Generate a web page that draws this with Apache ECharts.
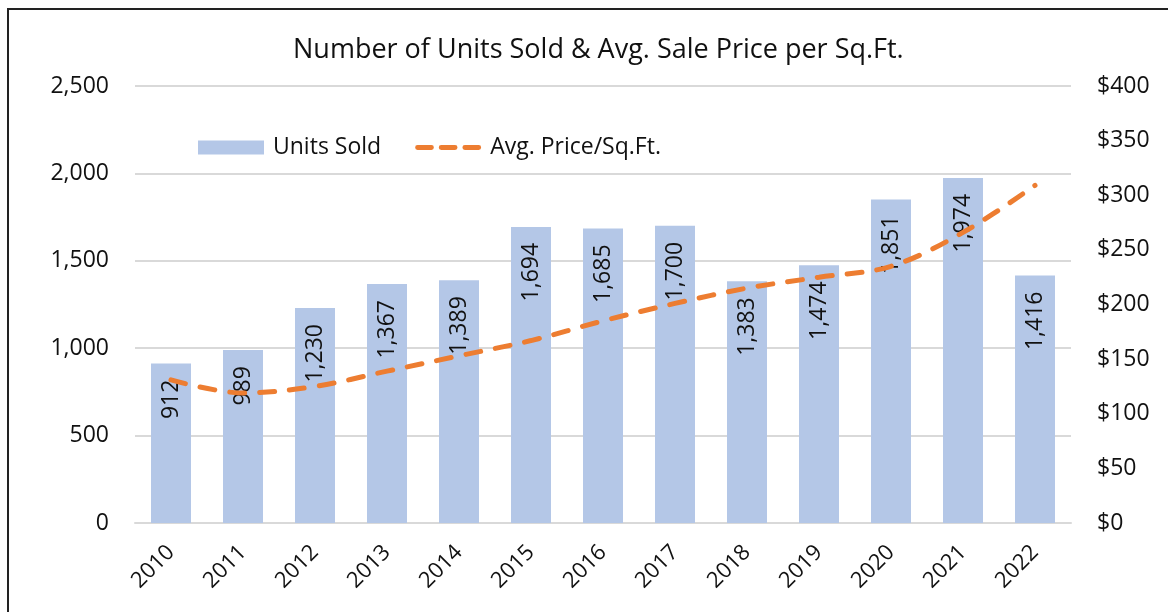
<!DOCTYPE html>
<html>
<head>
<meta charset="utf-8">
<script src="https://cdn.jsdelivr.net/npm/echarts@6/dist/echarts.min.js"></script>
<style>
  html, body { margin: 0; padding: 0; background: #fff; }
  .frame {
    position: absolute; left: 7px; top: 8px; width: 1175px; height: 620px;
    border-top: 2px solid #222; border-left: 2px solid #222;
  }
  #Chart { position: absolute; left: 0; top: 0; width: 1168px; height: 612px; }
</style>
</head>
<body>
<div class="frame"></div>
<div id="Chart"></div>
<script>
// 年份
const years = ["2010", "2011", "2012", "2013", "2014", "2015", "2016", "2017", "2018", "2019", "2020", "2021", "2022"];
// 销售套数
const unitsSold = [912, 989, 1230, 1367, 1389, 1694, 1685, 1700, 1383, 1474, 1851, 1974, 1416];
// 每平方英尺均价
const avgPrice = [131, 119, 125, 139, 153, 167, 185, 201, 215, 225, 235, 266, 309];

const font = "'Open Sans', 'Noto Sans', sans-serif";
// 图例里的虚线图标(三段短线)
const dashIcon = "path://M0,0h0.01v0.01h-0.01z M66,14h-0.01v-0.01h0.01z " +
  "M2,4.5h14a2.5,2.5 0 0 1 0,5h-14a2.5,2.5 0 0 1 0,-5z " +
  "M26,4.5h14a2.5,2.5 0 0 1 0,5h-14a2.5,2.5 0 0 1 0,-5z " +
  "M50,4.5h14a2.5,2.5 0 0 1 0,5h-14a2.5,2.5 0 0 1 0,-5z";

const chart = echarts.init(document.getElementById("Chart"));

const option = {
  animation: false,
  textStyle: { fontFamily: font },
  title: {
    text: "Number of Units Sold & Avg. Sale Price per Sq.Ft.",
    left: 288,
    top: 32,
    textStyle: { fontFamily: font, fontSize: 27, fontWeight: "normal", color: "#111" }
  },
  legend: {
    left: 193,
    top: 131,
    itemWidth: 66,
    itemHeight: 14,
    itemGap: 34,
    textStyle: { fontFamily: font, fontSize: 23, color: "#111", padding: [0, 0, 0, 4] },
    data: [
      { name: "Units Sold", icon: "rect" },
      { name: "Avg. Price/Sq.Ft.", icon: dashIcon, itemStyle: { color: "#ED7D31" } }
    ]
  },
  grid: { left: 135, right: 97, top: 86, bottom: 89 },
  xAxis: {
    type: "category",
    data: years,
    axisLine: { lineStyle: { color: "#D9D9D9", width: 2 } },
    axisTick: { show: false },
    axisLabel: { rotate: 45, fontSize: 22, color: "#111", margin: 26, fontFamily: font }
  },
  yAxis: [
    {
      type: "value",
      min: 0,
      max: 2500,
      interval: 500,
      axisLine: { show: false },
      axisTick: { show: false },
      splitLine: { lineStyle: { color: "#D9D9D9", width: 2 } },
      axisLabel: {
        fontSize: 23, color: "#111", margin: 26, fontFamily: font,
        formatter: v => v.toLocaleString("en-US")
      }
    },
    {
      type: "value",
      min: 0,
      max: 400,
      interval: 50,
      axisLine: { show: false },
      axisTick: { show: false },
      splitLine: { show: false },
      axisLabel: {
        fontSize: 23, color: "#111", margin: 26, fontFamily: font,
        formatter: v => "$" + v
      }
    }
  ],
  series: [
    {
      name: "Units Sold",
      type: "bar",
      barWidth: 40,
      itemStyle: { color: "#B4C7E7" },
      label: {
        show: true,
        position: "insideTop",
        distance: 16,
        rotate: 90,
        align: "right",
        verticalAlign: "middle",
        fontSize: 23,
        color: "#111",
        fontFamily: font,
        formatter: p => p.value.toLocaleString("en-US")
      },
      data: unitsSold
    },
    {
      name: "Avg. Price/Sq.Ft.",
      type: "line",
      yAxisIndex: 1,
      smooth: 0.35,
      symbol: "none",
      lineStyle: { color: "#ED7D31", width: 5, type: [15, 15], cap: "round" },
      itemStyle: { color: "#ED7D31" },
      data: avgPrice
    }
  ]
};
chart.setOption(option);
</script>
</body>
</html>
